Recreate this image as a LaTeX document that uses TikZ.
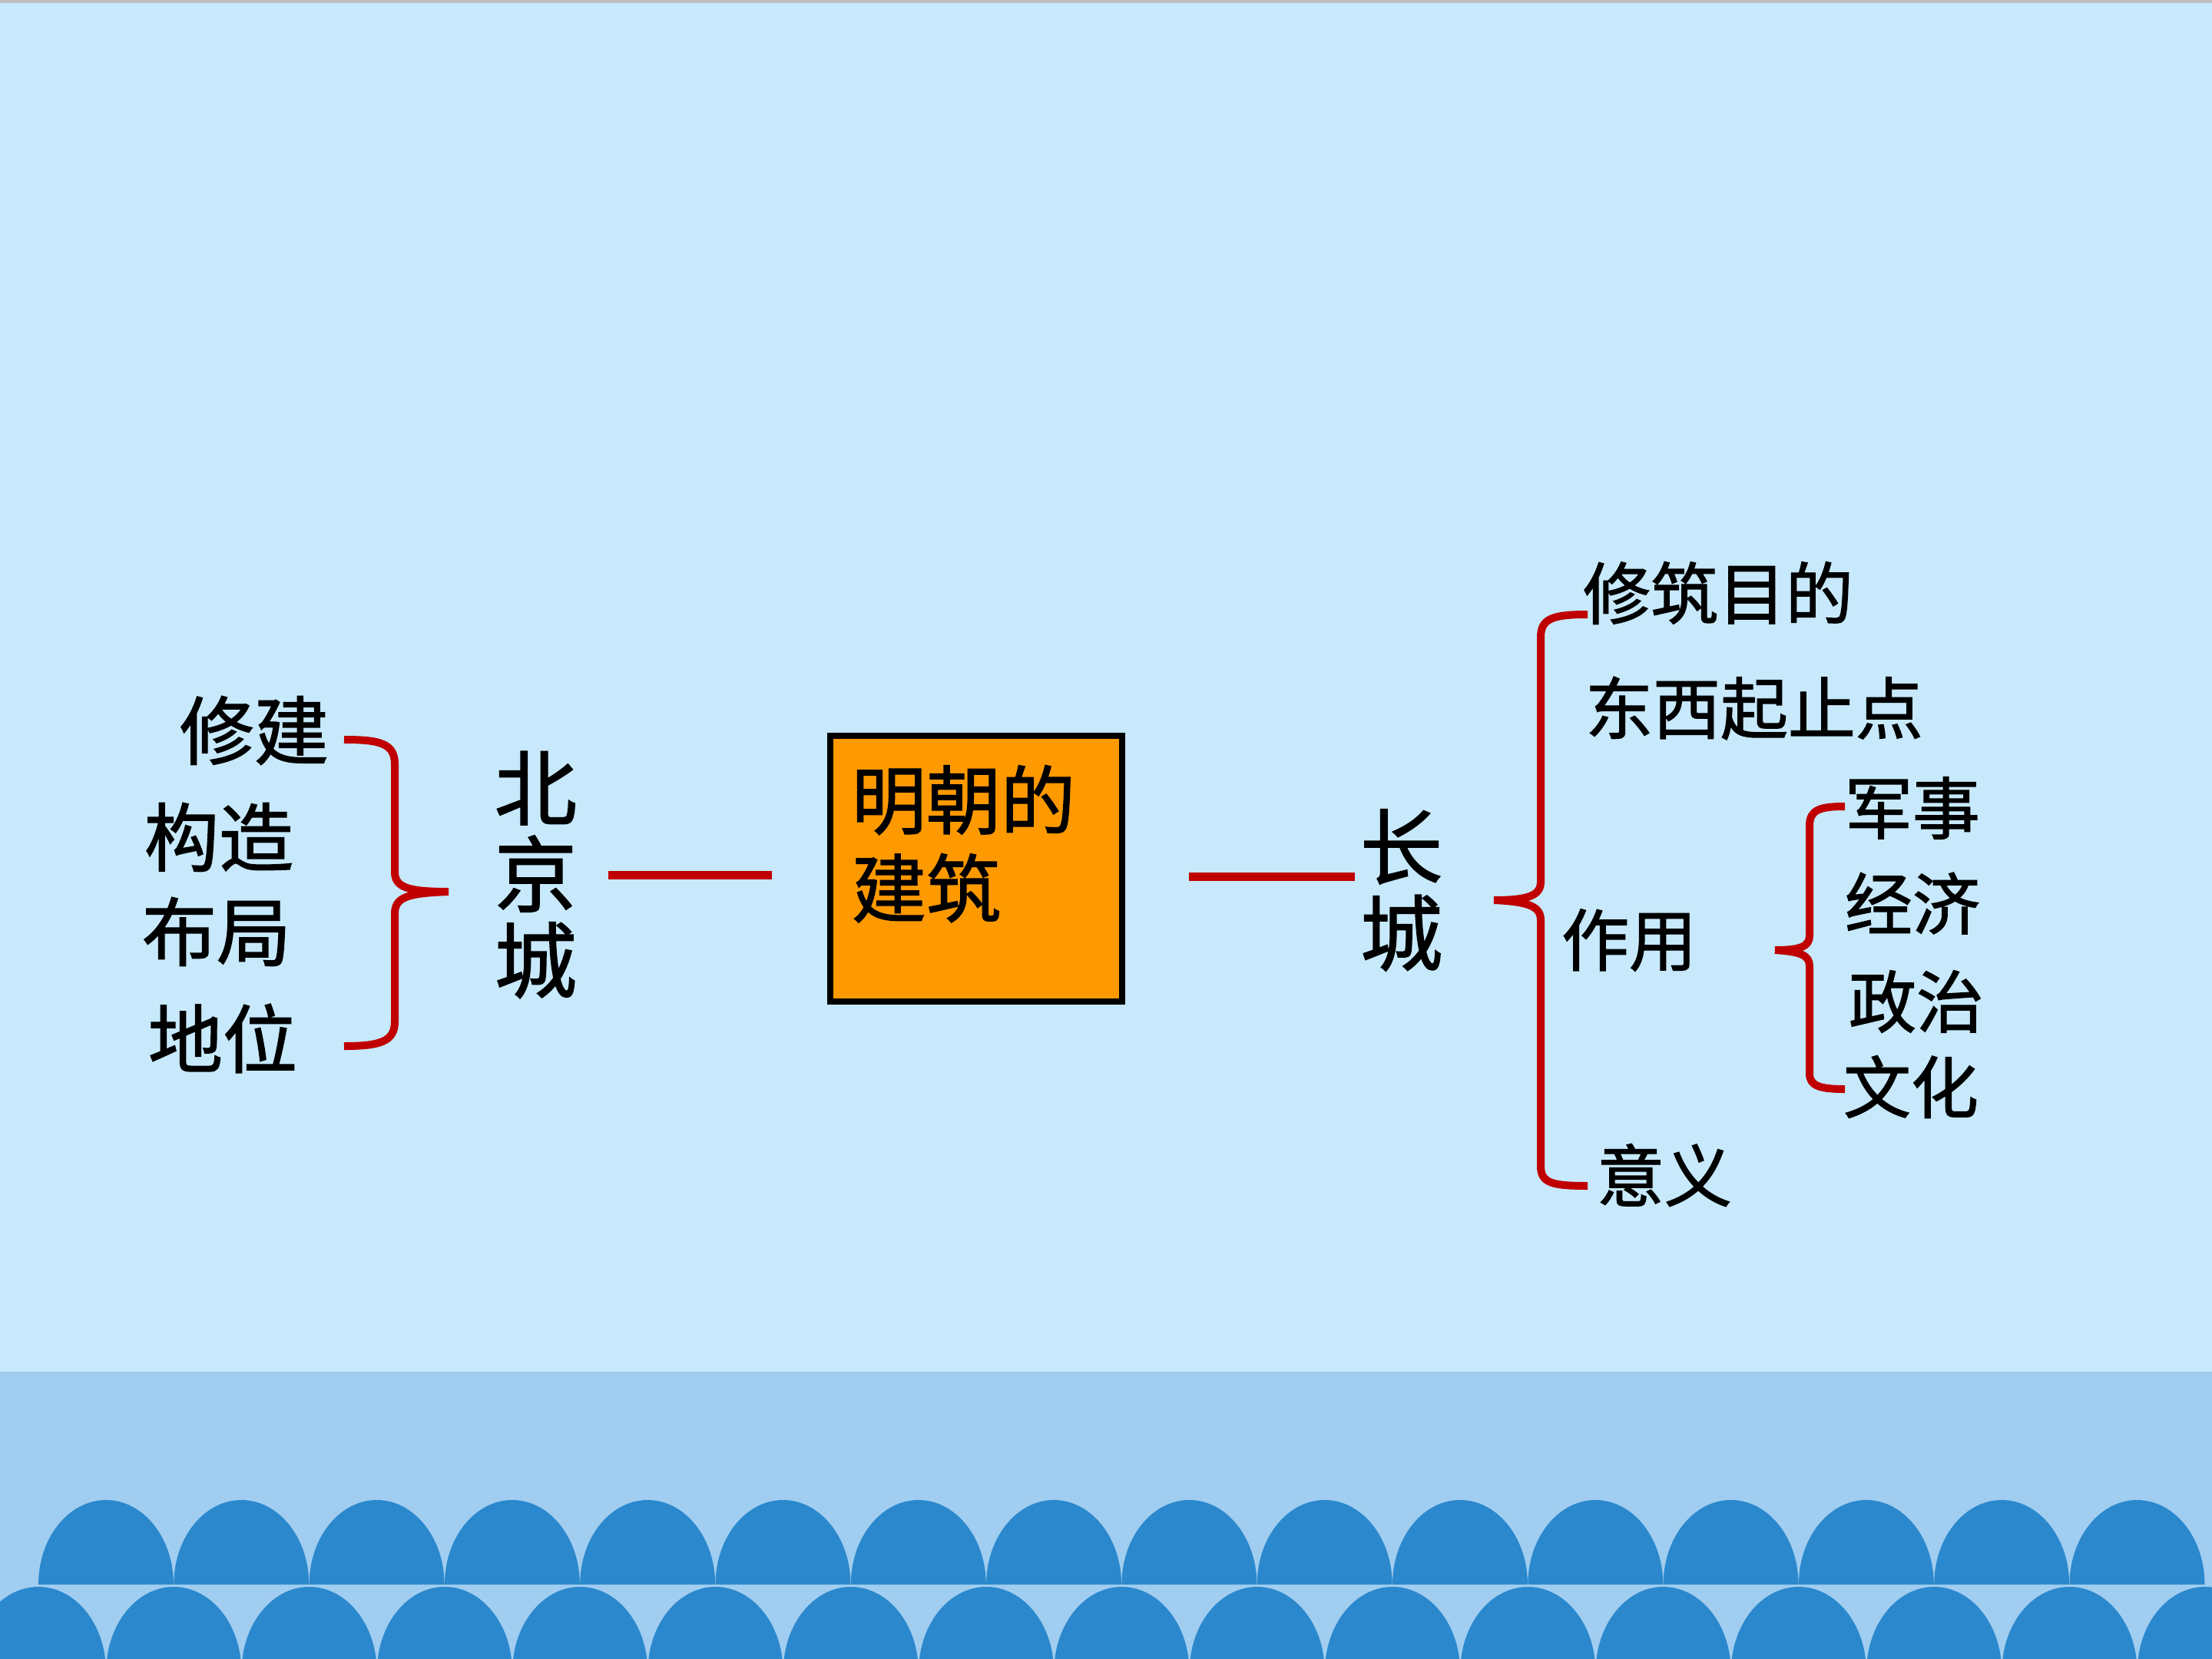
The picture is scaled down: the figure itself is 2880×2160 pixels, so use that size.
\documentclass[tikz,border=0pt]{standalone}
\usepackage{fontspec}
\newfontfamily\cjk[FakeBold=1.5]{Noto Sans CJK SC}
\usetikzlibrary{positioning}

\definecolor{skyblue}{RGB}{199,233,251}
\definecolor{bandblue}{RGB}{160,205,240}
\definecolor{waveblue}{RGB}{43,136,205}
\definecolor{boxorange}{RGB}{255,153,0}
\definecolor{bracered}{RGB}{192,0,0}

\begin{document}
\begin{tikzpicture}[
    x=0.01cm, y=-0.01cm,
    item/.style={font=\cjk\fontsize{27.6pt}{33pt}\selectfont, inner sep=0pt},
    subitem/.style={font=\cjk\fontsize{25pt}{30pt}\selectfont, inner sep=0pt},
    topic/.style={font=\cjk\fontsize{30.5pt}{31.9pt}\selectfont, inner sep=0pt, align=center},
    mingbox/.style={rectangle, draw=black, fill=boxorange, line width=0.08cm, inner xsep=0.28cm, inner ysep=0.38cm, font=\cjk\fontsize{27.6pt}{32.7pt}\selectfont},
    link/.style={draw=bracered, line width=0.11cm},
    brace/.style={draw=bracered, line width=0.1cm},
    wave/.style={fill=waveblue}
]

% Background
\useasboundingbox (0,0) rectangle (2880,2160);
\clip (0,0) rectangle (2880,2160);
\fill[skyblue] (0,0) rectangle (2880,2160);
\fill[gray!50] (0,0) rectangle (2880,4);
\fill[bandblue] (0,1786) rectangle (2880,2160);

% Waves
\foreach \i in {0,...,15}
    \fill[wave] ({50+176.3*\i},2063) arc[start angle=180, end angle=360, x radius=88, y radius=110];
\foreach \i in {0,...,16}
    \fill[wave] ({-38+176.3*\i},2176) arc[start angle=180, end angle=360, x radius=88, y radius=110];

% Centre
\node[mingbox] (ming) at (1271,1131) {\parbox[c][2.69cm][t]{3.24cm}{明朝的\\建筑}};

% Topics
\node[topic, left=3.25cm of ming, yshift=-0.08cm] (beijing) {北\\京\\城};
\node[topic, right=3.05cm of ming, yshift=-0.28cm] (changcheng) {长\\城};

% Beijing items
\node[item] (xiujian) at (331,951) {修建};
\node[item] (gouzao) at (285,1090) {构造};
\node[item] (buju) at (282,1213) {布局};
\node[item] (diwei) at (290,1352) {地位};

% Great Wall items
\node[subitem] (mudi) at (2237,772) {修筑目的};
\node[subitem] (qizhi) at (2284,922) {东西起止点};
\node[subitem] (zuoyong) at (2121,1224) {作用};
\node[subitem] (yiyi) at (2167,1530) {意义};

% Roles
\node[subitem] (junshi) at (2490,1052) {军事};
\node[subitem] (jingji) at (2490,1176) {经济};
\node[subitem] (zhengzhi) at (2495,1304) {政治};
\node[subitem] (wenhua) at (2488,1415) {文化};

% Connections
\draw[link, shorten <=0.4cm, shorten >=0.72cm] (beijing.east) -- (beijing.east -| ming.west);
\draw[link, shorten <=0.83cm, shorten >=0.06cm] ([yshift=-0.1cm]ming.east) -- ([yshift=-0.1cm]ming.east -| changcheng.west);

% Braces
\draw[brace] (448,963) .. controls (495,963) and (514,968) .. (514,995) -- (514,1135)
    .. controls (514,1155) and (530,1161) .. (584,1161)
    .. controls (530,1163) and (514,1168) .. (514,1190) -- (514,1330)
    .. controls (514,1356) and (495,1362) .. (448,1362);
\draw[brace] (2067,800) .. controls (2020,800) and (2006,806) .. (2006,830) -- (2006,1148)
    .. controls (2006,1166) and (1990,1172) .. (1945,1172)
    .. controls (1990,1174) and (2006,1180) .. (2006,1198) -- (2006,1518)
    .. controls (2006,1540) and (2020,1544) .. (2067,1544);
\draw[brace] (2402,1050) .. controls (2370,1050) and (2356,1054) .. (2356,1075) -- (2356,1218)
    .. controls (2356,1232) and (2345,1237) .. (2311,1237)
    .. controls (2345,1239) and (2356,1244) .. (2356,1258) -- (2356,1398)
    .. controls (2356,1414) and (2370,1418) .. (2402,1418);

\end{tikzpicture}
\end{document}
